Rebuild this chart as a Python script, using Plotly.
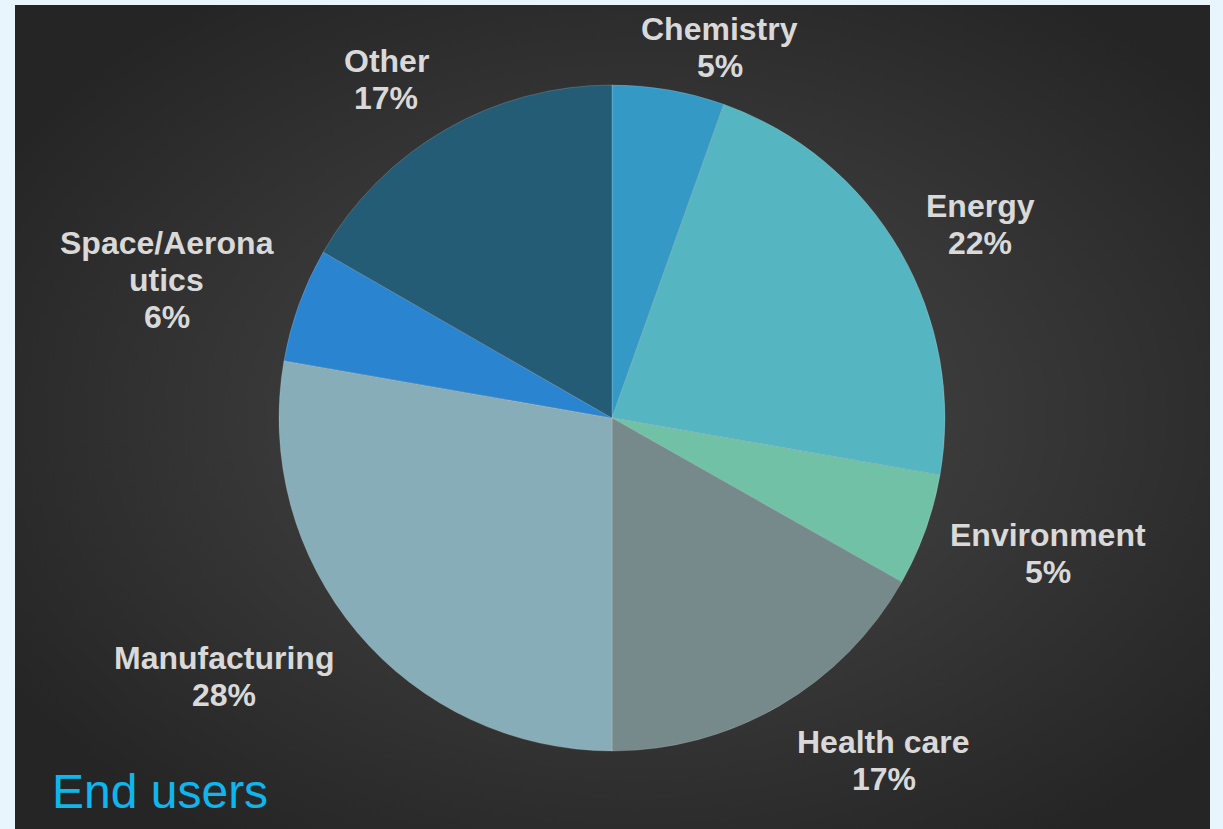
import base64
import math
import plotly.graph_objects as go

# ---- data ----
categories = ["Chemistry", "Energy", "Environment", "Health care",
              "Manufacturing", "Space/Aeronautics", "Other"]
shares = [5.45, 22.3, 5.45, 16.8, 27.75, 5.55, 16.7]
display_names = ["Chemistry", "Energy", "Environment", "Health care",
                 "Manufacturing", "Space/Aerona<br>utics", "Other"]
chart_title = "End users"

# ---- styles ----
W, H = 1223, 829
slice_colors = ["#3499c4", "#55b6c2", "#70c1a6", "#76898b",
                "#86adb8", "#2a84d0", "#235c74"]
# label placement: (angle tweak in degrees, distance from centre in px)
label_place = [(6.4, 386), (2.5, 416), (-2.4, 457), (-8.2, 437),
               (6.4, 466), (-2.7, 466), (-3.6, 407)]
line_gap = 37
cx_px, cy_px, r_px = 612, 418, 333
FONT = "Liberation Sans, Arial, sans-serif"

svg = (
    "<svg xmlns='http://www.w3.org/2000/svg' width='1195' height='824'>"
    "<defs><radialGradient id='g' cx='52%' cy='50%' r='62%'>"
    "<stop offset='0' stop-color='#4a4a4a'/>"
    "<stop offset='1' stop-color='#252525'/>"
    "</radialGradient></defs>"
    "<rect width='1195' height='824' fill='url(#g)'/></svg>"
)
bg_src = "data:image/svg+xml;base64," + base64.b64encode(svg.encode()).decode()

fig = go.Figure(go.Pie(
    labels=categories,
    values=shares,
    sort=False,
    direction="clockwise",
    rotation=0,
    textinfo="none",
    hoverinfo="label+percent",
    marker=dict(colors=slice_colors,
                line=dict(color="rgba(255,255,255,0.25)", width=0.7)),
    domain=dict(x=[(cx_px - r_px) / W, (cx_px + r_px) / W],
                y=[1 - (cy_px + r_px) / H, 1 - (cy_px - r_px) / H]),
    showlegend=False,
))

total = sum(shares)
annotations = []
cum = 0.0
for name, v, (dang, dist) in zip(display_names, shares, label_place):
    mid = (cum + v / 2) / total * 360.0
    cum += v
    a = math.radians(mid + dang)
    px = cx_px + dist * math.sin(a)
    py = cy_px - dist * math.cos(a)
    pct = round(v / total * 100)
    lines = name.split("<br>") + [f"{pct}%"]
    n = len(lines)
    for i, ln in enumerate(lines):
        ly = py + (i - (n - 1) / 2) * line_gap
        annotations.append(dict(
            x=px / W, y=1 - ly / H, xref="paper", yref="paper",
            text=f"<b>{ln}</b>", showarrow=False,
            xanchor="center", yanchor="middle", align="center",
            font=dict(family=FONT, size=32, color="#d9d9d9"),
        ))

annotations.append(dict(
    x=50 / W, y=1 - 791 / H, xref="paper", yref="paper",
    text=chart_title, showarrow=False, xanchor="left", yanchor="middle",
    font=dict(family=FONT, size=48, color="#0fb6ee"),
))

fig.update_layout(
    width=W, height=H,
    margin=dict(l=0, r=0, t=0, b=0),
    paper_bgcolor="#e8f5fc",
    plot_bgcolor="rgba(0,0,0,0)",
    images=[dict(source=bg_src, xref="paper", yref="paper",
                 x=15 / W, y=1 - 5 / H, sizex=1195 / W, sizey=824 / H,
                 xanchor="left", yanchor="top", sizing="stretch",
                 layer="below")],
    annotations=annotations,
)

fig.write_html(
    "out.html",
    config={"displayModeBar": False},
    post_script="document.body.style.margin='0';"
                "document.body.style.background='#e8f5fc';"
                "document.body.style.overflow='hidden';",
)
